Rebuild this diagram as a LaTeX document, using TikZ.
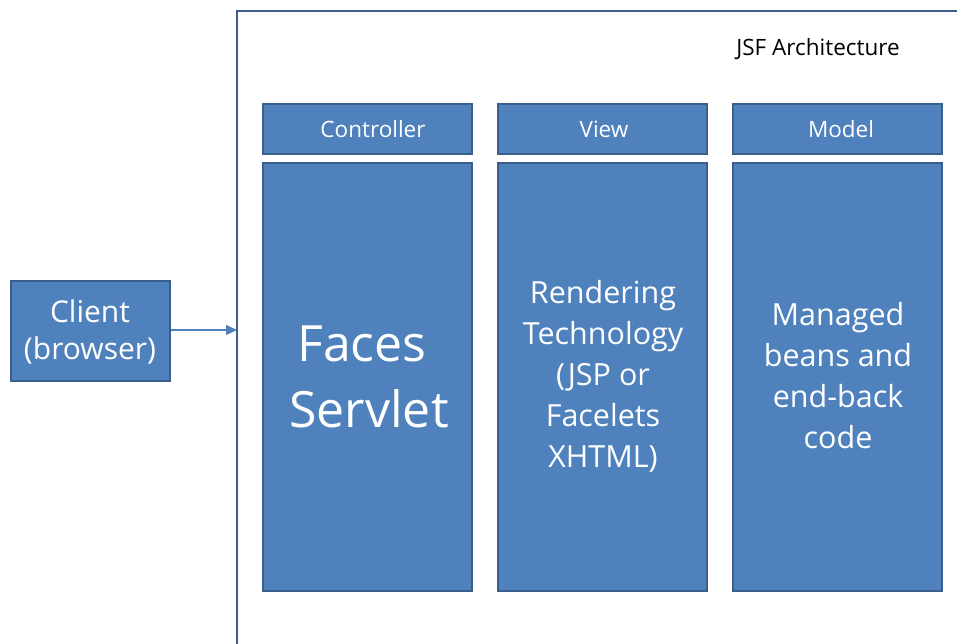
\documentclass[tikz,border=0pt]{standalone}
\usepackage{fontspec}
\setmainfont{Open Sans}
\usetikzlibrary{arrows.meta}
\definecolor{boxfill}{HTML}{4F81BD}
\definecolor{boxline}{HTML}{3A5F8C}
\definecolor{frameline}{HTML}{3D5E8E}
\tikzset{
  box/.style={draw=boxline, fill=boxfill, line width=2pt, anchor=north west, inner sep=0pt},
  hdr/.style={box, minimum width=209pt, minimum height=50pt},
  body/.style={box, minimum width=209pt, minimum height=428pt},
  wtxt/.style={text=white, align=center, inner sep=0pt},
  hfont/.style={font=\fontsize{22.5}{27}\selectfont},
  conn/.style={draw=boxfill, line width=1.3pt, -{Triangle[length=11pt,width=10pt]}}
}
\begin{document}
\begin{tikzpicture}[x=1pt,y=-1pt]
\useasboundingbox (0,0) rectangle (957,644);
% outer frame (open at right and bottom)
\draw[frameline, line width=2.5pt] (237,650) -- (237,11) -- (960,11);
\node[anchor=base, inner sep=0pt, hfont] (title) at (818,56) {JSF Architecture};
% headers
\node[hdr] (ctrlH) at (262,103) {};
\node[hdr] (viewH) at (497,103) {};
\node[hdr] (modelH) at (732,103) {};
\node[wtxt, anchor=base, hfont] (ctrlT) at (373,138) {Controller};
\node[wtxt, anchor=base, hfont] (viewT) at (604,138) {View};
\node[wtxt, anchor=base, hfont] (modelT) at (841,138) {Model};
% bodies
\node[body] (ctrlB) at (262,162) {};
\node[body] (viewB) at (497,162) {};
\node[body] (modelB) at (732,162) {};
\node[wtxt, font=\fontsize{50}{66}\selectfont] (ctrlX) at (369,377) {\hspace*{-14pt}Faces\\Servlet};
\node[wtxt, font=\fontsize{30.5}{41}\selectfont] (viewX) at (603,376) {Rendering\\Technology\\(JSP or\\Facelets\\XHTML)};
\node[wtxt, font=\fontsize{30.5}{41}\selectfont] (modelX) at (838,376) {Managed\\beans and\\end-back\\code};
% client
\node[box, minimum width=159pt, minimum height=100pt] (client) at (10,280) {};
\node[wtxt, font=\fontsize{30}{37}\selectfont] (clientT) at (90,332) {Client\\(browser)};
\coordinate (frameL) at (237,330);
\draw[conn] (client.east |- frameL) -- (frameL);
\end{tikzpicture}
\end{document}
